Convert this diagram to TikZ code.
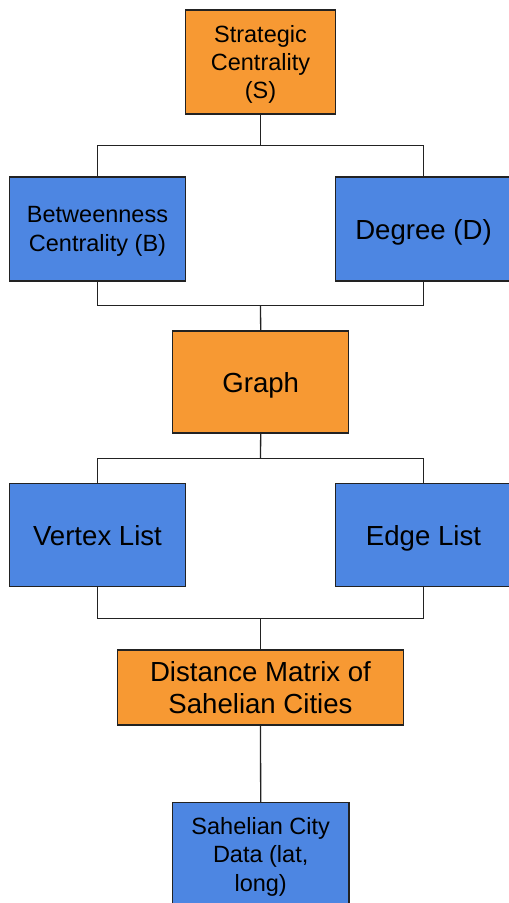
\documentclass[tikz,border=0pt]{standalone}
\usepackage{fontspec}
\setmainfont{Liberation Sans}
\definecolor{boxorange}{RGB}{247,153,51}
\definecolor{boxblue}{RGB}{77,134,226}
\definecolor{linec}{RGB}{34,34,34}
\tikzset{
  box/.style={draw=linec, line width=1.2pt, rectangle, inner sep=0pt, align=center, text=black, text depth=0pt},
  small/.style={font=\fontsize{23.5}{28.4}\selectfont},
  big/.style={font=\fontsize{27.6}{32}\selectfont},
  obox/.style={box, fill=boxorange},
  bbox/.style={box, fill=boxblue},
  link/.style={draw=linec, line width=1.3pt}
}
\begin{document}
\begin{tikzpicture}[x=1pt, y=-1pt]
  \useasboundingbox (0,0) rectangle (509,903);

  % nodes
  \node[obox, small, minimum width=150.7pt, minimum height=104pt] (S) at (260.5,62) {Strategic\\Centrality\\(S)};
  \node[bbox, small, minimum width=176.4pt, minimum height=104pt] (B) at (97.5,229) {Betweenness\\Centrality (B)};
  \node[bbox, big, minimum width=176.4pt, minimum height=104pt] (D) at (423.5,229) {Degree (D)};
  \node[obox, big, minimum width=176pt, minimum height=102pt] (G) at (260.7,382) {Graph};
  \node[bbox, big, minimum width=176.4pt, minimum height=103pt] (V) at (97.5,535) {Vertex List};
  \node[bbox, big, minimum width=176.4pt, minimum height=103pt] (E) at (423.5,535) {Edge List};
  \node[obox, big, minimum width=285.6pt, minimum height=75pt] (M) at (260.5,687.5) {Distance Matrix of\\Sahelian Cities};
  \node[bbox, small, minimum width=176.7pt, minimum height=103pt] (C) at (260.7,854.3) {Sahelian City\\Data (lat,\\long)};

  % junction points of the tree connectors
  \coordinate (j1) at (260.5,145.7);
  \coordinate (j2) at (260.5,305.6);
  \coordinate (j3) at (260.5,458.4);
  \coordinate (j4) at (260.5,618.2);

  % connectors
  \draw[link] (S.south) -- (j1);
  \draw[link] (B.north) |- (j1) -| (D.north);
  \draw[link] (B.south) |- (j2) -| (D.south);
  \draw[link] (j2) -- (G.north);
  \draw[link] (G.south) -- (j3);
  \draw[link] (V.north) |- (j3) -| (E.north);
  \draw[link] (V.south) |- (j4) -| (E.south);
  \draw[link] (j4) -- (M.north);
  \draw[link] (M.south) -- (C.north);
\end{tikzpicture}
\end{document}
